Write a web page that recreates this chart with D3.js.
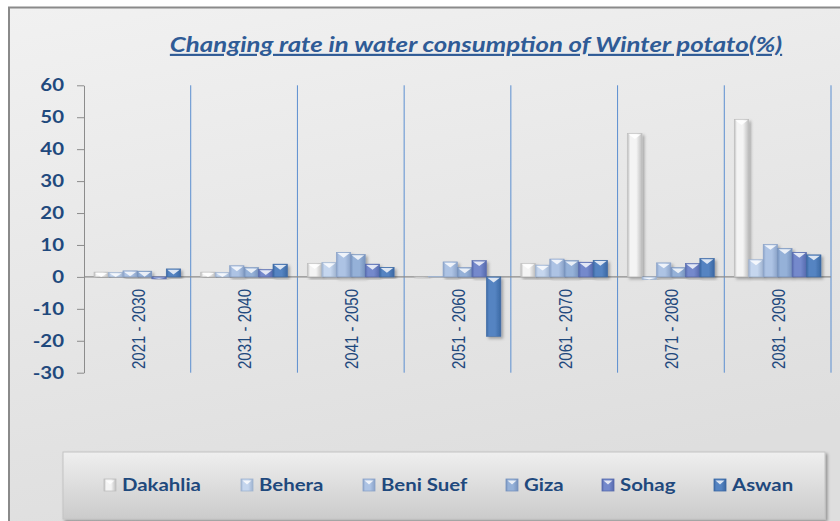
<!DOCTYPE html>
<html>
<head>
<meta charset="utf-8">
<script src="https://cdn.jsdelivr.net/npm/d3@7"></script>
<style>
  html, body { margin: 0; padding: 0; background: #fff; }
  svg { display: block; }
</style>
</head>
<body>
<div id="chart"></div>
<script>
// Data
const periods = ["2021 - 2030", "2031 - 2040", "2041 - 2050", "2051 - 2060", "2061 - 2070", "2071 - 2080", "2081 - 2090"];
const governorates = ["Dakahlia", "Behera", "Beni Suef", "Giza", "Sohag", "Aswan"];
const dakahlia = [1.5, 1.5, 4.2, -0.3, 4.2, 44.9, 49.3];
const behera   = [1.4, 1.4, 4.5, 0.2, 3.7, -0.8, 5.4];
const beniSuef = [1.9, 3.5, 7.7, 4.7, 5.6, 4.4, 10.2];
const giza     = [1.8, 2.9, 7.0, 2.9, 5.1, 2.9, 8.9];
const sohag    = [-0.6, 2.3, 4.0, 5.1, 4.6, 4.2, 7.7];
const aswan    = [2.5, 4.0, 3.0, -18.6, 5.2, 5.8, 6.9];
const yTicks = [-30, -20, -10, 0, 10, 20, 30, 40, 50, 60];

const seriesValues = [dakahlia, behera, beniSuef, giza, sohag, aswan];
const data = periods.map((p, i) => ({
  period: p,
  values: governorates.map((g, j) => ({ key: g, value: seriesValues[j][i] }))
}));

// Layout
const width = 840, height = 521;
const plot = { left: 84, right: 831, top: 85.3, bottom: 372.7 };
const barColors = ["#f4f4f4", "#c5d6ee", "#adc3e4", "#95b1d8", "#7489cc", "#5584c2"];
const edgeColors = ["#bdbdbd", "#9fb3d0", "#8aa2c8", "#7692bd", "#5669ad", "#3b68a3"];
const legendX = [104, 241, 363, 506, 602, 714];
const stretch = 1.2; // the reference text is a little wide

const svg = d3.select("#chart").append("svg")
  .attr("width", width)
  .attr("height", height);

const defs = svg.append("defs");

// chart area background
const bg = defs.append("linearGradient").attr("id", "bg")
  .attr("x1", 0).attr("y1", 0).attr("x2", 0.3).attr("y2", 1);
bg.append("stop").attr("offset", "0%").attr("stop-color", "#f1f1f1");
bg.append("stop").attr("offset", "100%").attr("stop-color", "#dedede");

const lg = defs.append("linearGradient").attr("id", "legendBg")
  .attr("x1", 0).attr("y1", 0).attr("x2", 0).attr("y2", 1);
lg.append("stop").attr("offset", "0%").attr("stop-color", "#efefef");
lg.append("stop").attr("offset", "100%").attr("stop-color", "#cbcbcb");

const shadow = defs.append("filter").attr("id", "shadow")
  .attr("x", "-30%").attr("y", "-10%").attr("width", "180%").attr("height", "130%");
shadow.append("feDropShadow").attr("dx", 2).attr("dy", 2)
  .attr("stdDeviation", 1.5).attr("flood-color", "#000").attr("flood-opacity", 0.3);

const boxShadow = defs.append("filter").attr("id", "boxShadow")
  .attr("x", "-5%").attr("y", "-20%").attr("width", "110%").attr("height", "150%");
boxShadow.append("feDropShadow").attr("dx", 2).attr("dy", 2)
  .attr("stdDeviation", 1.5).attr("flood-color", "#000").attr("flood-opacity", 0.35);

governorates.forEach((g, j) => {
  const gr = defs.append("linearGradient").attr("id", "bar" + j)
    .attr("x1", 0).attr("y1", 0).attr("x2", 1).attr("y2", 0);
  gr.append("stop").attr("offset", "0%").attr("stop-color", edgeColors[j]);
  gr.append("stop").attr("offset", "18%").attr("stop-color", barColors[j]);
  gr.append("stop").attr("offset", "60%").attr("stop-color", barColors[j]);
  gr.append("stop").attr("offset", "100%").attr("stop-color", edgeColors[j]);
});

svg.append("rect")
  .attr("x", 9).attr("y", 7.5)
  .attr("width", width).attr("height", height)
  .attr("fill", "url(#bg)")
  .attr("stroke", "#8a8a8a")
  .attr("stroke-width", 2);

// Scales
const x0 = d3.scaleBand()
  .domain(periods)
  .range([plot.left, plot.right])
  .padding(0);

const x1 = d3.scaleBand()
  .domain(governorates)
  .range([10, x0.bandwidth() - 10])
  .padding(0);

const y = d3.scaleLinear()
  .domain([-30, 60])
  .range([plot.bottom, plot.top]);

// Category dividers
svg.append("g")
  .selectAll("line")
  .data(periods)
  .join("line")
  .attr("x1", d => x0(d) + x0.bandwidth())
  .attr("x2", d => x0(d) + x0.bandwidth())
  .attr("y1", plot.top)
  .attr("y2", plot.bottom)
  .attr("stroke", "#5b8ed0")
  .attr("stroke-width", 1);

// Y axis
svg.append("g")
  .attr("transform", `translate(${plot.left},0)`)
  .call(d3.axisLeft(y).tickValues(yTicks).tickFormat(d => String(d)).tickSize(7).tickSizeOuter(0))
  .call(g => g.selectAll("line").attr("stroke", "#8c8c8c"))
  .call(g => g.select(".domain").attr("stroke", "#8c8c8c"))
  .call(g => g.selectAll("text")
    .attr("x", 0)
    .attr("transform", `translate(-20,0) scale(${stretch},1)`)
    .attr("fill", "#1f497d")
    .style("font-family", "Lato, 'Open Sans', sans-serif")
    .style("font-weight", "bold")
    .style("font-size", "17px"));

// Zero line
svg.append("line")
  .attr("x1", plot.left).attr("x2", plot.right)
  .attr("y1", y(0)).attr("y2", y(0))
  .attr("stroke", "#8c8c8c")
  .attr("stroke-width", 1.2);

// Bars
const groups = svg.append("g")
  .selectAll("g")
  .data(data)
  .join("g")
  .attr("transform", d => `translate(${x0(d.period)},0)`);

const bars = groups.selectAll("g")
  .data(d => d.values)
  .join("g")
  .attr("filter", "url(#shadow)");

bars.append("rect")
  .attr("x", d => x1(d.key))
  .attr("y", d => y(Math.max(0, d.value)))
  .attr("width", x1.bandwidth())
  .attr("height", d => Math.abs(y(d.value) - y(0)))
  .attr("fill", (d, i) => `url(#bar${i})`)
  .attr("stroke", (d, i) => edgeColors[i])
  .attr("stroke-width", 0.6);

// bevel cap on top of each bar
bars.append("path")
  .attr("d", d => {
    const bx = x1(d.key), bw = x1.bandwidth();
    const top = y(Math.max(0, d.value));
    const h = Math.abs(y(d.value) - y(0));
    const cap = Math.min(5.5, h);
    return `M${bx + 1},${top + 0.8}L${bx + bw - 1},${top + 0.8}L${bx + bw / 2},${top + cap}Z`;
  })
  .attr("fill", "#ffffff")
  .attr("opacity", (d, i) => i === 0 ? 0.9 : 0.8);

// X labels
svg.append("g")
  .selectAll("text")
  .data(periods)
  .join("text")
  .attr("transform", d => `translate(${x0(d) + x0.bandwidth() / 2 + 1},289) scale(${stretch},1) rotate(-90)`)
  .attr("dy", "0.35em")
  .attr("text-anchor", "end")
  .attr("fill", "#1f497d")
  .style("font-family", "'Liberation Sans', Arial, sans-serif")
  .style("font-size", "15px")
  .text(d => d);

// Title
svg.append("text")
  .attr("transform", `translate(476,52) scale(${stretch},1)`)
  .attr("text-anchor", "middle")
  .attr("fill", "#2f5b96")
  .style("font-family", "Lato, 'Open Sans', sans-serif")
  .style("font-weight", "bold")
  .style("font-style", "italic")
  .style("font-size", "21.5px")
  .style("text-decoration", "underline")
  .text("Changing rate in water consumption of Winter potato(%)");

// Legend
svg.append("rect")
  .attr("x", 63).attr("y", 452)
  .attr("width", 762).attr("height", 67)
  .attr("fill", "url(#legendBg)")
  .attr("stroke", "#c4c4c4")
  .attr("filter", "url(#boxShadow)");

const legend = svg.append("g")
  .selectAll("g")
  .data(governorates)
  .join("g")
  .attr("transform", (d, i) => `translate(${legendX[i]},479)`);

legend.append("rect")
  .attr("width", 12).attr("height", 12)
  .attr("fill", (d, i) => `url(#bar${i})`)
  .attr("stroke", (d, i) => edgeColors[i])
  .attr("stroke-width", 0.8);

legend.append("path")
  .attr("d", "M1.5,1.5L10.5,1.5L6,5.5Z")
  .attr("fill", "#fff")
  .attr("opacity", 0.8);

legend.append("text")
  .attr("transform", `translate(18,6) scale(${stretch},1)`)
  .attr("dy", "0.36em")
  .attr("fill", "#1f497d")
  .style("font-family", "Lato, 'Open Sans', sans-serif")
  .style("font-weight", "bold")
  .style("font-size", "17px")
  .text(d => d);
</script>
</body>
</html>
